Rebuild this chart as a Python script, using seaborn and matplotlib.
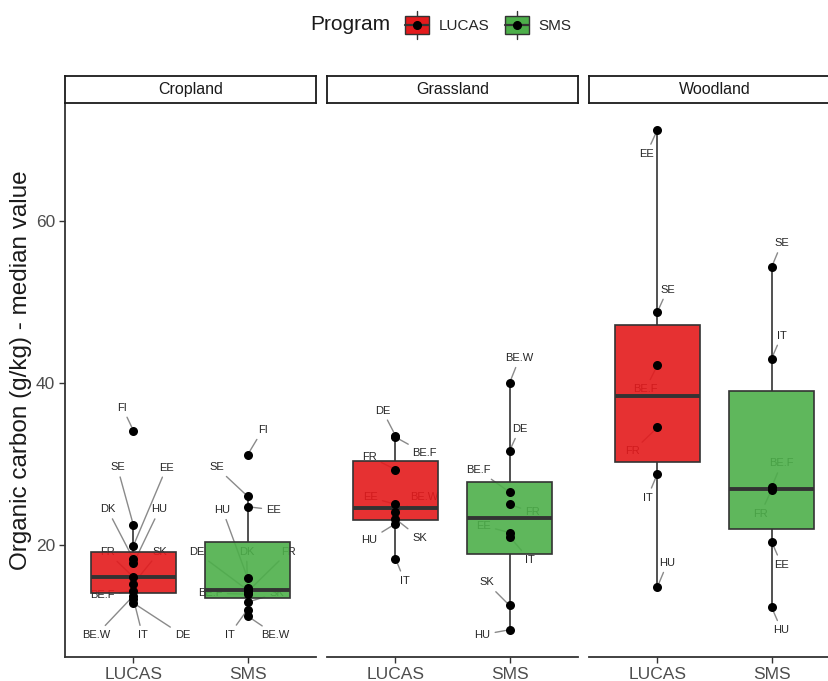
import pandas as pd
import matplotlib
matplotlib.use("Agg")
import matplotlib.pyplot as plt
import seaborn as sns
from matplotlib.patches import Rectangle, Patch
from matplotlib.lines import Line2D
from matplotlib.legend_handler import HandlerBase

# --- data ---
covers = ["Cropland", "Grassland", "Woodland"]
programs = ["LUCAS", "SMS"]

crop_lucas_site = ["FI", "SE", "EE", "DK", "HU", "FR", "SK", "BE.F", "BE.W", "IT", "DE"]
crop_lucas_oc = [34.1, 22.4, 19.9, 18.2, 17.7, 16.0, 15.2, 14.3, 13.7, 13.3, 12.8]
crop_sms_site = ["FI", "SE", "EE", "HU", "DK", "DE", "FR", "BE.F", "SK", "IT", "BE.W"]
crop_sms_oc = [31.1, 26.0, 24.7, 15.9, 14.7, 14.4, 14.2, 13.9, 12.9, 12.0, 11.2]

grass_lucas_site = ["DE", "BE.F", "FR", "EE", "BE.W", "SK", "HU", "IT"]
grass_lucas_oc = [33.5, 33.3, 29.3, 25.0, 24.0, 23.2, 22.6, 18.3]
grass_sms_site = ["BE.W", "DE", "BE.F", "FR", "EE", "IT", "SK", "HU"]
grass_sms_oc = [40.0, 31.6, 26.5, 25.0, 21.5, 21.0, 12.5, 9.5]

wood_lucas_site = ["EE", "SE", "BE.F", "FR", "IT", "HU"]
wood_lucas_oc = [71.3, 48.8, 42.2, 34.5, 28.8, 14.8]
wood_sms_site = ["SE", "IT", "BE.F", "FR", "EE", "HU"]
wood_sms_oc = [54.3, 43.0, 27.1, 26.8, 20.4, 12.3]

groups = [
    ("Cropland", "LUCAS", crop_lucas_site, crop_lucas_oc),
    ("Cropland", "SMS", crop_sms_site, crop_sms_oc),
    ("Grassland", "LUCAS", grass_lucas_site, grass_lucas_oc),
    ("Grassland", "SMS", grass_sms_site, grass_sms_oc),
    ("Woodland", "LUCAS", wood_lucas_site, wood_lucas_oc),
    ("Woodland", "SMS", wood_sms_site, wood_sms_oc),
]
df = pd.concat(
    [pd.DataFrame({"cover": c, "Program": p, "site": s, "oc": v}) for c, p, s, v in groups],
    ignore_index=True,
)

# label placement (pixel offsets from each point, like ggrepel output)
label_offsets = {
    ("Cropland", "LUCAS"): {"FI": (-11, 23), "SE": (-16, 58), "EE": (33, 78), "DK": (-26, 50),
                            "HU": (26, 54), "FR": (-26, 25), "SK": (26, 32), "BE.F": (-31, -4),
                            "BE.W": (-37, -39), "IT": (9, -36), "DE": (49, -32)},
    ("Cropland", "SMS"): {"FI": (15, 25), "SE": (-31, 29), "EE": (26, -3), "HU": (-25, 68),
                          "DK": (-1, 36), "DE": (-51, 38), "FR": (41, 40), "BE.F": (-37, 1),
                          "SK": (29, 9), "IT": (-18, -25), "BE.W": (28, -19)},
    ("Grassland", "LUCAS"): {"DE": (-13, 25), "BE.F": (29, -16), "FR": (-26, 13), "EE": (-25, 7),
                             "BE.W": (29, 15), "SK": (24, -19), "HU": (-26, -16), "IT": (9, -22)},
    ("Grassland", "SMS"): {"BE.W": (10, 25), "DE": (10, 22), "BE.F": (-31, 22), "FR": (23, -8),
                           "EE": (-26, 7), "IT": (20, -23), "SK": (-23, 23), "HU": (-27, -5)},
    ("Woodland", "LUCAS"): {"EE": (-11, -24), "SE": (10, 22), "BE.F": (-12, -24), "FR": (-25, -24),
                            "IT": (-10, -24), "HU": (10, 24)},
    ("Woodland", "SMS"): {"SE": (10, 24), "IT": (10, 23), "BE.F": (10, 24), "FR": (-11, -24),
                          "EE": (10, -23), "HU": (10, -23)},
}

palette = {"LUCAS": "#E41A1C", "SMS": "#4DAF4A"}
dark = "#333333"

# --- plotting ---
sns.set_theme(style="white")
plt.rcParams["font.family"] = ["Liberation Sans", "DejaVu Sans"]

W, H = 829, 681
fig = plt.figure(figsize=(W / 100, H / 100), dpi=100)

panel_left = [65, 327, 589]
panel_w, panel_bottom, panel_h = 251, 24, 554

for i, cov in enumerate(covers):
    ax = fig.add_axes([panel_left[i] / W, panel_bottom / H, panel_w / W, panel_h / H])
    sub = df[df["cover"] == cov]

    # labels first so the boxes sit over them
    for _, r in sub.iterrows():
        xpos = programs.index(r["Program"])
        dx, dy = label_offsets[(cov, r["Program"])][r["site"]]
        ax.annotate(
            r["site"], (xpos, r["oc"]), xytext=(dx, dy), textcoords="offset pixels",
            ha="center", va="center", fontsize=8, color="#262626", zorder=0.5,
            arrowprops=dict(arrowstyle="-", color="#8a8a8a", lw=1.0, shrinkA=1, shrinkB=3),
        )

    sns.boxplot(
        data=sub, x="Program", y="oc", hue="Program", order=programs, hue_order=programs,
        palette=palette, saturation=1, width=0.75, linecolor=dark, linewidth=1.2,
        showfliers=False, showcaps=False, medianprops=dict(linewidth=2.8, color=dark),
        legend=False, ax=ax,
    )
    for p in ax.patches:
        fc = p.get_facecolor()
        p.set_facecolor((fc[0], fc[1], fc[2], 0.9))

    sns.stripplot(
        data=sub, x="Program", y="oc", order=programs, jitter=False, color="black",
        size=6.5, linewidth=0, ax=ax, zorder=4,
    )

    ax.set_xlim(-0.6, 1.6)
    ax.set_ylim(6.13, 74.6)
    ax.set_yticks([20, 40, 60])
    ax.set_xlabel("")
    ax.set_ylabel("")
    ax.spines["top"].set_visible(False)
    ax.spines["right"].set_visible(False)
    for s in ["left", "bottom"]:
        ax.spines[s].set_color(dark)
        ax.spines[s].set_linewidth(1.3)
    ax.tick_params(axis="both", colors=dark, labelcolor="#4d4d4d", labelsize=12.5,
                   length=4, width=1.0, direction="out", pad=3)
    ax.tick_params(axis="x", bottom=True)
    ax.tick_params(axis="y", left=True)
    if i > 0:
        ax.spines["left"].set_visible(False)
        ax.tick_params(axis="y", left=False, labelleft=False)

    # facet strip
    sax = fig.add_axes([panel_left[i] / W, (panel_bottom + panel_h) / H, panel_w / W, 27 / H])
    sax.set_xticks([])
    sax.set_yticks([])
    for s in sax.spines.values():
        s.set_visible(True)
        s.set_color("#1a1a1a")
        s.set_linewidth(1.3)
    sax.set_facecolor("white")
    sax.text(0.5, 0.5, cov, ha="center", va="center", fontsize=11.5, color="#1a1a1a",
             transform=sax.transAxes)

fig.text(21 / W, (panel_bottom + panel_h / 2 + 10) / H, "Organic carbon (g/kg) - median value",
         rotation=90, ha="center", va="center", fontsize=17.5, color="#1a1a1a")


class BoxKey(HandlerBase):
    def create_artists(self, legend, orig_handle, xdescent, ydescent, width, height, fontsize, trans):
        x0, y0 = -xdescent, -ydescent
        xc, yc = x0 + width / 2, y0 + height / 2
        vline = Line2D([xc, xc], [y0 - 0.12 * height, y0 + 1.12 * height], color=dark, lw=1.0, transform=trans)
        box = Rectangle((x0, y0 + 0.08 * height), width, 0.84 * height,
                        facecolor=orig_handle.get_facecolor(), edgecolor=dark, lw=1.0, transform=trans)
        med = Line2D([x0, x0 + width], [yc, yc], color=dark, lw=1.6, transform=trans)
        dot = Line2D([xc], [yc], marker="o", markersize=5.5, color="black", lw=0, transform=trans)
        return [vline, box, med, dot]


handles = [Patch(facecolor=palette[p]) for p in programs]
fig.text(350 / W, 1 - 25 / H, "Program", ha="center", va="center", fontsize=15, color="#1a1a1a")
fig.legend(
    handles, programs, handler_map={Patch: BoxKey()}, loc="center left",
    bbox_to_anchor=(405 / W, 1 - 25 / H), ncol=2, frameon=False, fontsize=11,
    handlelength=1.6, handleheight=1.9, handletextpad=0.6, columnspacing=1.0,
    borderpad=0, borderaxespad=0,
)

fig.savefig("out.png", dpi=100, facecolor="white")
